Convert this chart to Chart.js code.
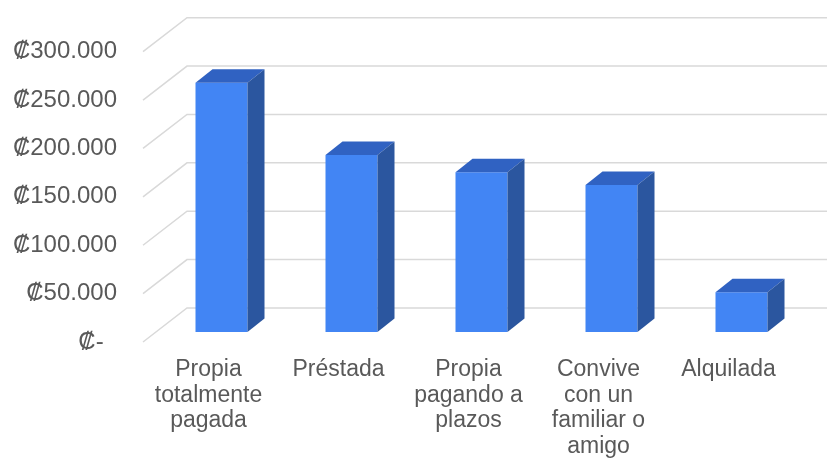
<!DOCTYPE html>
<html>
<head>
<meta charset="utf-8">
<script src="https://cdn.jsdelivr.net/npm/chart.js@4.4.1/dist/chart.umd.min.js"></script>
<style>
  body { margin: 0; background: #fff; }
</style>
</head>
<body>
<canvas id="grafico" width="827" height="461"></canvas>
<script>
var categorias = [
  ["Propia", "totalmente", "pagada"],
  "Préstada",
  ["Propia", "pagando a", "plazos"],
  ["Convive", "con un", "familiar o", "amigo"],
  "Alquilada"
];
var montos = [257600, 182900, 165000, 151900, 41000];
var ticksY = [0, 50000, 100000, 150000, 200000, 250000, 300000];

var colorFrente = "#4285f4";
var colorLado = "#2b569f";
var colorTecho = "#3062c2";

// profundidad de las barras y de la pared
var profX = 17, profY = 13.5;

function formatoColon(v) {
  if (v === 0) return "₡-  ";
  return "₡" + String(v).replace(/\B(?=(\d{3})+(?!\d))/g, ".");
}

var pared = {
  id: "pared",
  beforeDatasetsDraw: function (chart) {
    let ctx = chart.ctx;
    let y = chart.scales.y;
    ctx.save();
    ctx.strokeStyle = "#d9d9d9";
    ctx.lineWidth = 1.5;
    ticksY.forEach(function (v) {
      let p = y.getPixelForValue(v);
      ctx.beginPath();
      ctx.moveTo(143, p + 10);
      ctx.lineTo(187, p - 24);
      ctx.lineTo(chart.width, p - 24);
      ctx.stroke();
    });
    ctx.restore();
  }
};

var cubos = {
  id: "cubos",
  afterDatasetsDraw: function (chart) {
    let ctx = chart.ctx;
    let meta = chart.getDatasetMeta(0);
    ctx.save();
    $each(meta.data, function (bar) {
      let p = bar.getProps(["x", "y", "base", "width"], true);
      let izq = p.x - p.width / 2;
      let der = p.x + p.width / 2;
      // techo
      ctx.fillStyle = colorTecho;
      ctx.beginPath();
      ctx.moveTo(izq, p.y);
      ctx.lineTo(izq + profX, p.y - profY);
      ctx.lineTo(der + profX, p.y - profY);
      ctx.lineTo(der, p.y);
      ctx.closePath();
      ctx.fill();
      // lado
      ctx.fillStyle = colorLado;
      ctx.beginPath();
      ctx.moveTo(der, p.y);
      ctx.lineTo(der + profX, p.y - profY);
      ctx.lineTo(der + profX, p.base - profY);
      ctx.lineTo(der, p.base);
      ctx.closePath();
      ctx.fill();
    });
    ctx.restore();
  }
};

function $each(arr, fn) {
  for (let i = 0; i < arr.length; i++) fn(arr[i], i);
}

new Chart("grafico", {
  type: "bar",
  data: {
    labels: categorias,
    datasets: [
      {
        data: montos,
        backgroundColor: colorFrente,
        borderWidth: 0,
        barPercentage: 0.4,
        categoryPercentage: 1
      }
    ]
  },
  options: {
    responsive: false,
    animation: false,
    layout: { padding: { top: 41.7, right: 20.5, left: 0, bottom: 0 } },
    plugins: { legend: { display: false }, tooltip: { enabled: false } },
    scales: {
      x: {
        grid: { display: false, drawTicks: false },
        border: { display: false },
        ticks: {
          color: "#595959",
          font: { family: "'Liberation Sans', Arial, sans-serif", size: 23, lineHeight: 1.11 },
          padding: 25,
          labelOffset: -13,
          maxRotation: 0,
          autoSkip: false
        },
        afterFit: function (scale) {
          scale.height = 129;
        }
      },
      y: {
        min: 0,
        max: 300000,
        grid: { display: false, drawTicks: false },
        border: { display: false },
        ticks: {
          stepSize: 50000,
          color: "#595959",
          font: { family: "'Liberation Sans', Arial, sans-serif", size: 24 },
          padding: 39.5,
          labelOffset: 10,
          callback: function (v) {
            return formatoColon(v);
          }
        },
        afterFit: function (scale) {
          scale.width = 156.5;
          scale.paddingTop = 0;
          scale.paddingBottom = 0;
        }
      }
    }
  },
  plugins: [pared, cubos]
});
</script>
</body>
</html>
